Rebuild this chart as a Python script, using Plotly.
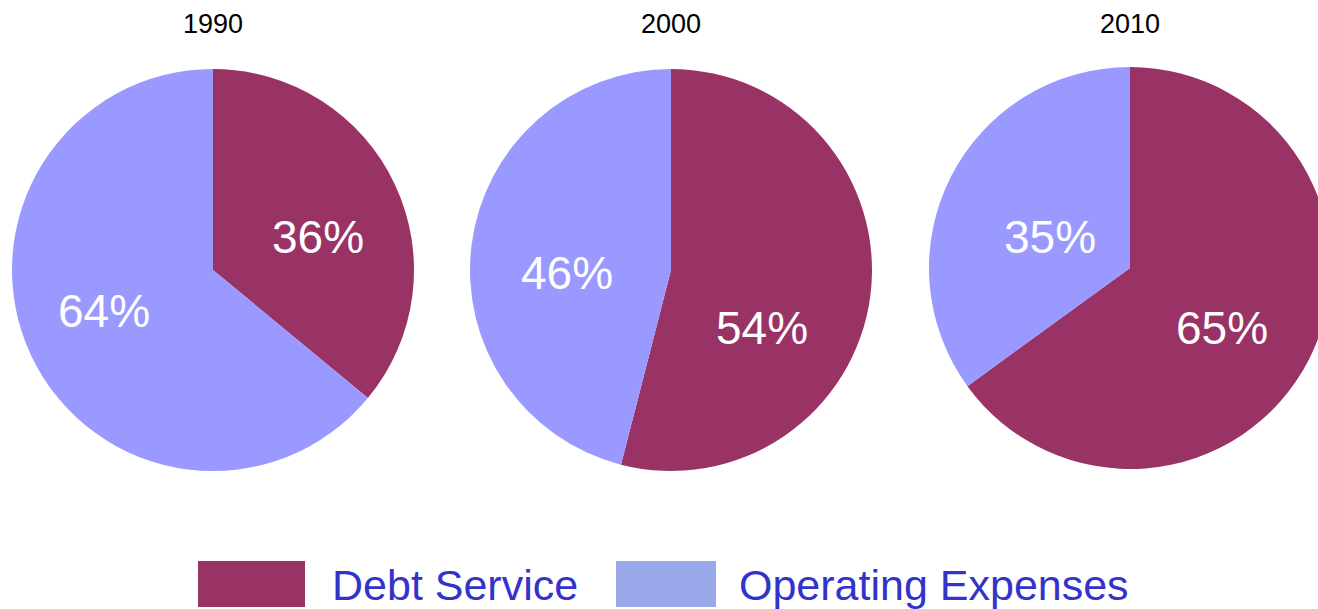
import plotly.graph_objects as go

# ---- data ----
years = ["1990", "2000", "2010"]
categories = ["Debt Service", "Operating Expenses"]
debt_service = [36, 54, 65]
operating_expenses = [64, 46, 35]

# ---- styles / layout ----
pie_colors = ["#993366", "#9999ff"]
legend_colors = ["#993366", "#99a8e8"]
font_family = "Liberation Sans, Arial, sans-serif"

W, H = 1342, 609
pie_cx = [213, 671, 1130]   # pixel centres of the pies
pie_cy = [270, 270, 268]
R = 201
# label offsets (px from pie centre) for [debt, operating] in each pie
label_offsets = [
    [(105, -33), (-109, 41)],
    [(91, 58), (-104, 3)],
    [(92, 60), (-80, -31)],
]

fig = go.Figure()
for i, yr in enumerate(years):
    cx, cy = pie_cx[i], pie_cy[i]
    vals = [debt_service[i], operating_expenses[i]]
    fig.add_trace(go.Pie(
        labels=categories,
        values=vals,
        name=yr,
        sort=False,
        direction="clockwise",
        rotation=0,
        marker=dict(colors=pie_colors, line=dict(width=0)),
        textinfo="none",
        hoverinfo="label+percent",
        showlegend=False,
        domain=dict(x=[(cx - R) / W, (cx + R) / W],
                    y=[1 - (cy + R) / H, 1 - (cy - R) / H]),
    ))
    total = sum(vals)
    for j, v in enumerate(vals):
        dx, dy = label_offsets[i][j]
        fig.add_annotation(
            x=(cx + dx) / W, y=1 - (cy + dy) / H, xref="paper", yref="paper",
            text=f"{round(100 * v / total)}%", showarrow=False,
            xanchor="center", yanchor="middle",
            font=dict(family=font_family, size=46, color="white"),
        )
    fig.add_annotation(
        x=cx / W, y=1 - 24 / H, xref="paper", yref="paper",
        text=yr, showarrow=False, xanchor="center", yanchor="middle",
        font=dict(family=font_family, size=27, color="black"),
    )

# ---- custom legend ----
legend_boxes = [(198, 305), (616, 716)]
legend_text_x = [330, 737]
for i, cat in enumerate(categories):
    x0, x1 = legend_boxes[i]
    fig.add_shape(type="rect", xref="paper", yref="paper",
                  x0=x0 / W, x1=x1 / W, y0=1 - 607 / H, y1=1 - 561 / H,
                  fillcolor=legend_colors[i], line=dict(width=0))
    fig.add_annotation(
        x=legend_text_x[i] / W, y=1 - 585 / H, xref="paper", yref="paper",
        text=cat, showarrow=False, xanchor="left", yanchor="middle",
        font=dict(family=font_family, size=43, color="#3333cc"),
    )

fig.update_layout(
    width=W, height=H,
    margin=dict(l=0, r=0, t=0, b=0),
    paper_bgcolor="white",
    plot_bgcolor="white",
    showlegend=False,
)

fig.write_html(
    "out.html",
    config={"displayModeBar": False},
    post_script="document.body.style.margin='0';document.body.style.overflow='hidden';document.documentElement.style.overflow='hidden';",
)
